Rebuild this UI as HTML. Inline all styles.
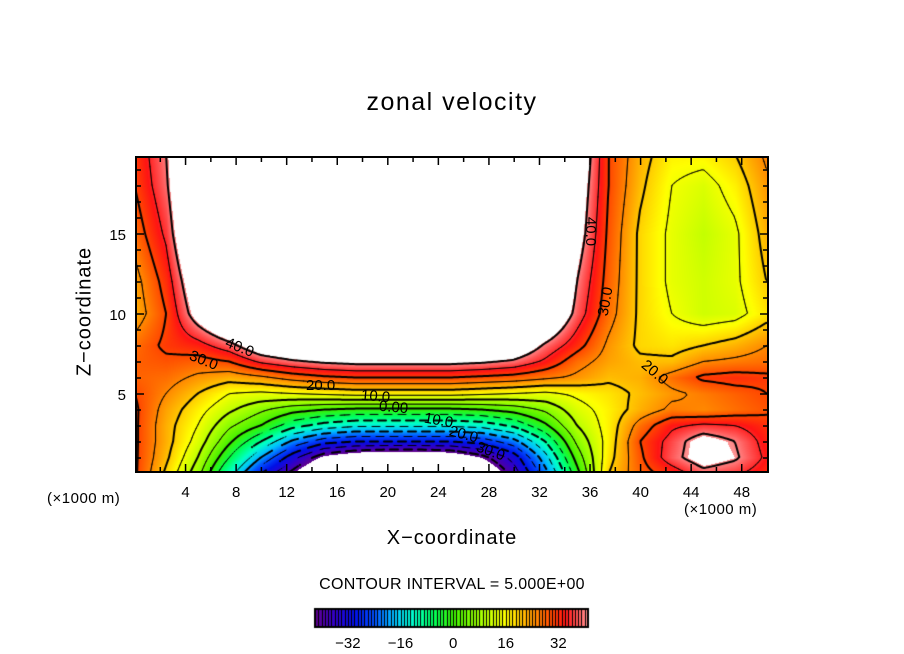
<!DOCTYPE html>
<html><head><meta charset="utf-8"><style>
body{margin:0;background:#fff;}
#root{position:relative;width:904px;height:654px;overflow:hidden;background:#fff;font-family:"Liberation Sans",sans-serif;color:#000;}
.t{position:absolute;white-space:nowrap;}
.lab{position:absolute;font-size:15px;white-space:nowrap;transform-origin:center;}
</style></head><body>
<div id="root">
<div class="t" style="left:0;width:904px;top:88px;text-align:center;font-size:25px;letter-spacing:1.5px;">zonal velocity</div>
<canvas id="plot" width="632" height="315" style="position:absolute;left:136px;top:157px;"></canvas>
<svg id="axes" width="904" height="654" style="position:absolute;left:0;top:0;"></svg>
<div class="t" style="left:-5px;top:300px;width:180px;text-align:center;font-size:20px;letter-spacing:1px;transform:rotate(-90deg);">Z−coordinate</div>
<div class="t" style="left:0;width:904px;top:527px;text-align:center;font-size:20px;letter-spacing:1px;">X−coordinate</div>
<div class="t" style="left:47px;top:490px;font-size:15px;letter-spacing:0.5px;">(×1000 m)</div>
<div class="t" style="left:684px;top:501px;font-size:15px;letter-spacing:0.5px;">(×1000 m)</div>
<div class="t" style="left:0;width:904px;top:576px;text-align:center;font-size:16px;letter-spacing:0.3px;">CONTOUR INTERVAL = 5.000E+00</div>
<canvas id="cbar" width="904" height="654" style="position:absolute;left:0;top:0;"></canvas>
<div id="labels"></div>
</div>
<script>
// grid axes (x1000 m)
const xCols = [0,2.5,5,7.5,10,12.5,15,17.5,20,22.5,25,27.5,30,32.5,35,37.5,40,42.5,45,47.5,50];
const zRows = [0,1,2,3,4,5,6,7,8,10,12,15,18,20];
// zonal velocity values per row (z ascending)
const u_z0  = [31,19,7,-12,-30,-42,-55,-62,-65,-65,-60,-50,-38,-22,-2,20,28,32,38,36,32];
const u_z1  = [31,21,10,-5,-20,-33,-44,-48,-50,-50,-48,-42,-33,-17,2,18,29,38,44,41,34];
const u_z2  = [31,22,13,1,-10,-21,-28,-30,-30,-30,-30,-28,-22,-10,6,17,30,37,44,40,33];
const u_z3  = [31,22,15,6,0,-8,-12,-14,-14,-14,-14,-13,-9,-1,10,17,27,34,36,35,32];
const u_z4  = [31,23,17,11,6,2,0,-1,-1,-1,-1,0,2,6,13,17,22,26,25,27,29];
const u_z5  = [30,25,20,15,14,15,16,17,17,17,17,16,15,14,16,18,21,24,26,28,30];
const u_z6  = [28,27,24,22,24,27,29,30,30,30,30,29,28,26,24,21,22,27,31,32,31];
const u_z7  = [28,29,28,30,36,39,41,42,42,42,42,41,39,34,27,23,21,21,25,26,27];
const u_z8  = [27,31,33,38,46,50,55,55,55,55,55,53,48,39,32,24,19,18,20,22,25];
const u_z10 = [22,30,44,55,60,60,60,60,60,60,60,60,60,52,38,27,19,15,12,13,18];
const u_z12 = [23,32,48,60,60,60,60,60,60,60,60,60,60,60,40,28,19,14,12,14,20];
const u_z15 = [27,36,55,60,60,60,60,60,60,60,60,60,60,60,44,29,19,14,11,14,22];
const u_z18 = [30,39,58,60,60,60,60,60,60,60,60,60,60,60,46,30,21,15,13,17,24];
const u_z20 = [31,40,60,60,60,60,60,60,60,60,60,60,60,60,48,30,22,17,17,20,26];
const field = [u_z0,u_z1,u_z2,u_z3,u_z4,u_z5,u_z6,u_z7,u_z8,u_z10,u_z12,u_z15,u_z18,u_z20];
const xTicks = [4,8,12,16,20,24,28,32,36,40,44,48];
const zTicks = [5,10,15];
const cbTicks = [-32,-16,0,16,32];
const levels = [-40,-35,-30,-25,-20,-15,-10,-5,0,5,10,15,20,25,30,35,40];

const X0=135, XS=12.64, Z0=474, ZS=16;
const xPix = x => X0 + XS*x;
const zPix = z => Z0 - ZS*z;
const VMIN=-42, VMAX=41;

function idx(arr,v){
  if(v<=arr[0]) return [0,0];
  for(let i=0;i<arr.length-1;i++){ if(v<=arr[i+1]) return [i,(v-arr[i])/(arr[i+1]-arr[i])]; }
  return [arr.length-2,1];
}
function val(x,z){
  const [i,fx]=idx(xCols,x), [j,fz]=idx(zRows,z);
  const a=field[j][i], b=field[j][i+1], c=field[j+1][i], d=field[j+1][i+1];
  return (a*(1-fx)+b*fx)*(1-fz)+(c*(1-fx)+d*fx)*fz;
}
const stops=[[-42,[96,0,140]],[-36,[48,0,200]],[-30,[0,16,230]],[-24,[0,80,255]],[-18,[0,190,255]],[-12,[0,255,200]],[-6,[0,255,90]],[0,[60,240,0]],[8,[160,255,0]],[16,[255,255,0]],[24,[255,150,0]],[30,[255,70,0]],[34,[255,20,20]],[38,[255,90,90]],[41,[255,150,150]]];
function color(v){
  if(v<VMIN||v>VMAX) return [255,255,255];
  for(let k=0;k<stops.length-1;k++){
    if(v<=stops[k+1][0]){const f=(v-stops[k][0])/(stops[k+1][0]-stops[k][0]);
      return stops[k][1].map((c,n)=>Math.round(c+(stops[k+1][1][n]-c)*f));}
  }
  return stops[stops.length-1][1];
}
// fill
const cv=document.getElementById('plot'), ctx=cv.getContext('2d');
const W=632,H=315, img=ctx.createImageData(W,H);
const toX = cx => (136+cx+0.5-X0)/XS, toZ = cy => (Z0-(157+cy+0.5))/ZS;
for(let cy=0;cy<H;cy++)for(let cx=0;cx<W;cx++){
  const c=color(val(toX(cx),toZ(cy))); const p=(cy*W+cx)*4;
  img.data[p]=c[0];img.data[p+1]=c[1];img.data[p+2]=c[2];img.data[p+3]=255;
}
ctx.putImageData(img,0,0);
// contours (marching squares)
const S=2, NX=Math.ceil(W/S), NY=Math.ceil(H/S);
const g=[];for(let j=0;j<=NY;j++){g.push([]);for(let i=0;i<=NX;i++)g[j].push(val(toX(i*S),toZ(j*S)));}
ctx.strokeStyle='#000';ctx.lineCap='round';
levels.forEach(L=>{
  ctx.lineWidth=(L%10===0)?2:1;ctx.beginPath();
  for(let j=0;j<NY;j++)for(let i=0;i<NX;i++){
    if(L<0 && ((i+j)%7)>=4) continue;
    const a=g[j][i],b=g[j][i+1],c=g[j+1][i+1],d=g[j+1][i];
    const pts=[];
    const e=(v1,v2,x1,y1,x2,y2)=>{if((v1<L)!==(v2<L)){const f=(L-v1)/(v2-v1);pts.push([x1+(x2-x1)*f,y1+(y2-y1)*f]);}};
    const x=i*S,y=j*S;
    e(a,b,x,y,x+S,y);e(b,c,x+S,y,x+S,y+S);e(c,d,x+S,y+S,x,y+S);e(d,a,x,y+S,x,y);
    for(let k=0;k+1<pts.length;k+=2){ctx.moveTo(pts[k][0],pts[k][1]);ctx.lineTo(pts[k+1][0],pts[k+1][1]);}
  }
  ctx.stroke();
});
// axes
const svg=document.getElementById('axes'), NS='http://www.w3.org/2000/svg';
function mk(tag,attrs){const e=document.createElementNS(NS,tag);for(const k in attrs)e.setAttribute(k,attrs[k]);svg.appendChild(e);return e;}
const frame=mk('rect',{x:136,y:157,width:632,height:315,fill:'none',stroke:'#000','stroke-width':2});


for(let x=2;x<50;x+=2){
  const len=(x%4===0)?8:5;
  const t1=mk('line',{x1:xPix(x),x2:xPix(x),y1:472,y2:472-len,stroke:'#000','stroke-width':1.5});
  
  
  const t2=mk('line',{x1:xPix(x),x2:xPix(x),y1:157,y2:157+len,stroke:'#000','stroke-width':1.5});
  
  
}
for(let z=1;z<20;z++){
  const len=(z%5===0)?8:5;
  const t1=mk('line',{x1:136,x2:136+len,y1:zPix(z),y2:zPix(z),stroke:'#000','stroke-width':1.5});
  
  
  const t2=mk('line',{x1:768,x2:768-len,y1:zPix(z),y2:zPix(z),stroke:'#000','stroke-width':1.5});
  
  
}
xTicks.forEach(x=>{
  const t=mk('text',{x:xPix(x),y:497,'text-anchor':'middle','font-size':15,'font-family':'Liberation Sans'});t.textContent=x;
  
  
});
zTicks.forEach(z=>{
  const t=mk('text',{x:126,y:zPix(z)+6,'text-anchor':'end','font-size':15,'font-family':'Liberation Sans'});t.textContent=z;
  
  
});
// colorbar
const cb=document.getElementById('cbar').getContext('2d');
const CBL=315,CBR=588,CBT=609,CBB=627;
const cbX=v=>CBL+(v-VMIN)/(VMAX-VMIN)*(CBR-CBL);
for(let v=VMIN;v<VMAX;v++){
  const c=color(v+0.5);cb.fillStyle=`rgb(${c[0]},${c[1]},${c[2]})`;
  cb.fillRect(cbX(v),CBT,cbX(v+1)-cbX(v)+0.5,CBB-CBT);
  cb.fillStyle='#000';cb.fillRect(Math.round(cbX(v)),CBT,1,CBB-CBT);
}
cb.strokeStyle='#000';cb.lineWidth=2;cb.strokeRect(CBL,CBT,CBR-CBL,CBB-CBT);
cbTicks.forEach(v=>{
  const t=mk('text',{x:cbX(v),y:648,'text-anchor':'middle','font-size':15,'font-family':'Liberation Sans'});t.textContent=(v<0?'−':'')+Math.abs(v);
  
  
});
// contour labels
const labs=[["40.0",241,348,22],["30.0",205,361,22],["20.0",322,386,0],["10.0",377,397,5],["0.00",395,408,5],["10.0",440,421,10],["20.0",465,435,15],["30.0",492,452,20],["40.0",592,232,90],["30.0",607,302,-80],["20.0",656,373,40]];
const box=document.getElementById('labels');
labs.forEach(l=>{
  const d=document.createElement('div');d.className='lab';d.textContent=l[0];
  
  
  d.style.left=(l[1]-16)+'px';d.style.top=(l[2]-9)+'px';d.style.transform='rotate('+l[3]+'deg)';
  box.appendChild(d);
});
</script>
</body></html>
